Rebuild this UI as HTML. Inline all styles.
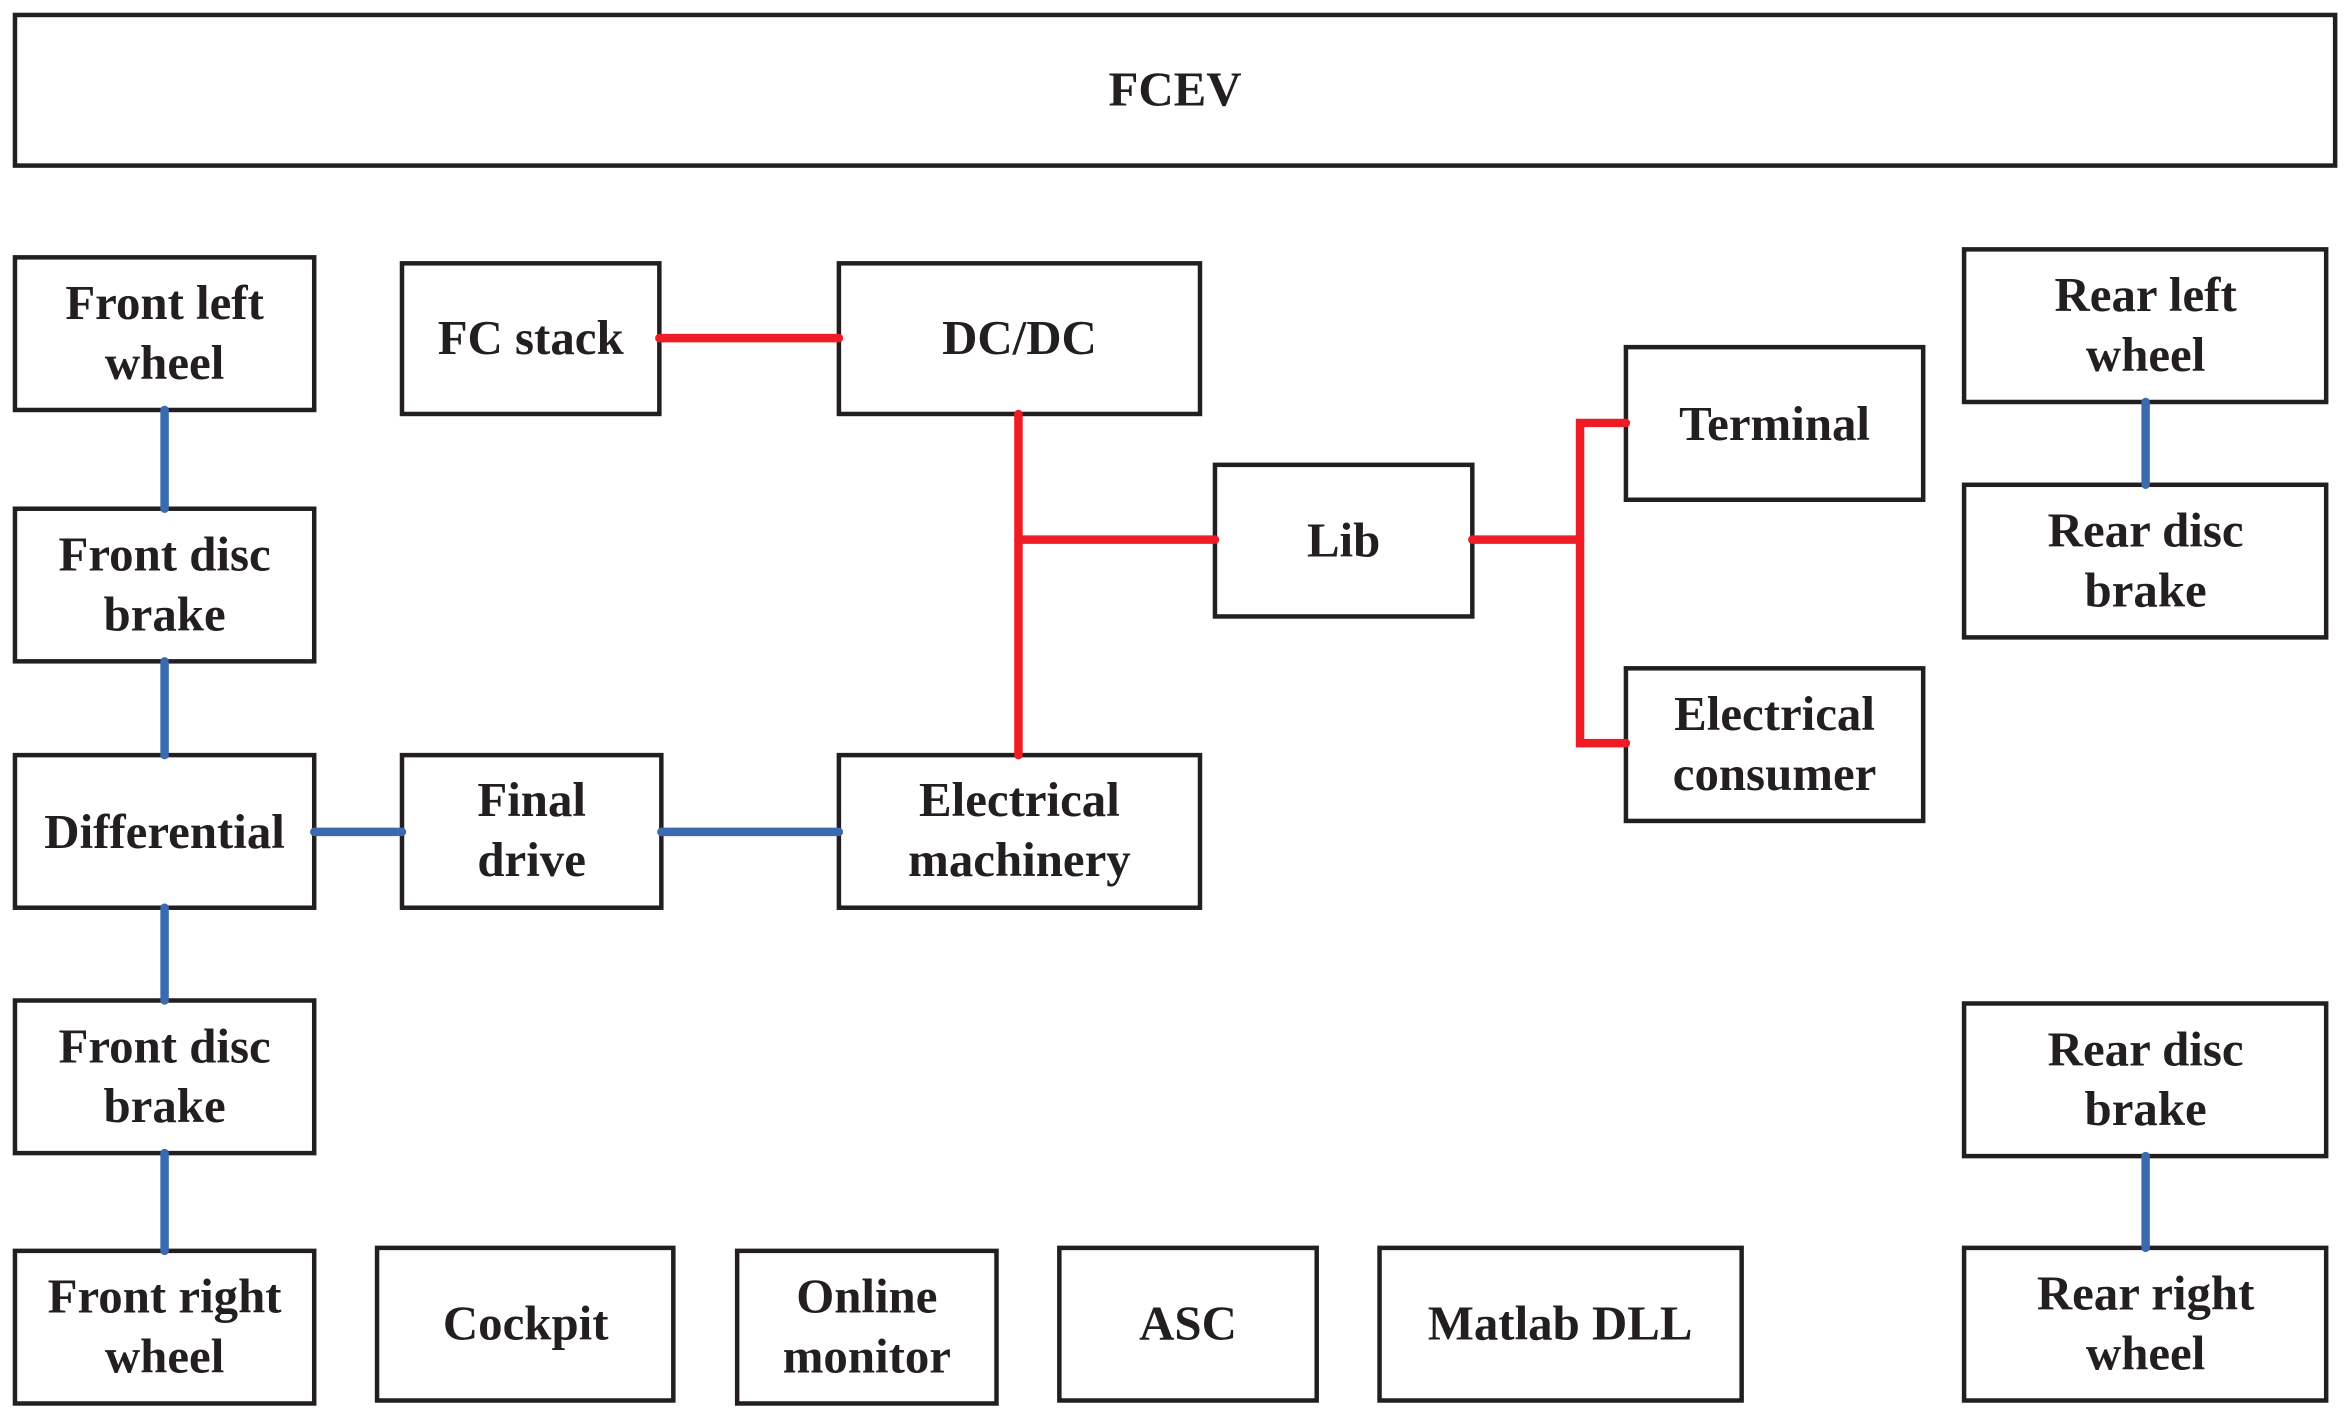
<!DOCTYPE html>
<html><head><style>
html,body{margin:0;padding:0;background:#fff;}
svg{display:block;}
text{font-family:"Liberation Serif",serif;font-weight:bold;font-size:49px;fill:#231f20;text-anchor:middle;}
</style></head><body>
<svg width="2345" height="1417" viewBox="0 0 2345 1417" xmlns="http://www.w3.org/2000/svg">
<g transform="scale(0.9975)">
<g fill="none" stroke="#231f20" stroke-width="4.5">
<rect x="15" y="15" width="2326" height="151"/>
<rect x="15" y="258" width="300" height="153"/>
<rect x="15" y="510" width="300" height="153"/>
<rect x="15" y="757" width="300" height="153"/>
<rect x="15" y="1003" width="300" height="153"/>
<rect x="15" y="1254" width="300" height="153"/>
<rect x="403" y="264" width="258" height="151"/>
<rect x="841" y="264" width="362" height="151"/>
<rect x="1218" y="466" width="258" height="152"/>
<rect x="1630" y="348" width="298" height="153"/>
<rect x="1630" y="670" width="298" height="153"/>
<rect x="1969" y="250" width="363" height="153"/>
<rect x="1969" y="486" width="363" height="153"/>
<rect x="403" y="757" width="260" height="153"/>
<rect x="841" y="757" width="362" height="153"/>
<rect x="1969" y="1006" width="363" height="153"/>
<rect x="1969" y="1251" width="363" height="153"/>
<rect x="378" y="1251" width="297" height="153"/>
<rect x="739" y="1254" width="260" height="153"/>
<rect x="1062" y="1251" width="258" height="153"/>
<rect x="1383" y="1251" width="363" height="153"/>
</g>
<g stroke="#3a6ab0" stroke-width="8.5" stroke-linecap="round" fill="none">
<line x1="165" y1="411" x2="165" y2="510"/>
<line x1="165" y1="663" x2="165" y2="757"/>
<line x1="165" y1="910" x2="165" y2="1003"/>
<line x1="165" y1="1156" x2="165" y2="1254"/>
<line x1="315" y1="834" x2="403" y2="834"/>
<line x1="663" y1="834" x2="841" y2="834"/>
<line x1="2151" y1="403" x2="2151" y2="486"/>
<line x1="2151" y1="1159" x2="2151" y2="1251"/>
</g>
<g stroke="#ee1c25" stroke-width="8.5" stroke-linecap="round" fill="none">
<line x1="661" y1="339" x2="841" y2="339"/>
<line x1="1021" y1="415" x2="1021" y2="757"/>
<line x1="1021" y1="541" x2="1218" y2="541"/>
<line x1="1476" y1="541" x2="1584" y2="541"/>
<polyline points="1630,424 1584,424 1584,745 1630,745"/>
</g>
<text x="1178" y="106">FCEV</text>
<text x="165" y="320">Front left</text><text x="165" y="380">wheel</text>
<text x="165" y="572">Front disc</text><text x="165" y="632">brake</text>
<text x="165" y="850">Differential</text>
<text x="165" y="1065">Front disc</text><text x="165" y="1125">brake</text>
<text x="165" y="1316">Front right</text><text x="165" y="1376">wheel</text>
<text x="532" y="355">FC stack</text>
<text x="1022" y="355">DC/DC</text>
<text x="1347" y="558">Lib</text>
<text x="1779" y="441">Terminal</text>
<text x="1779" y="732">Electrical</text><text x="1779" y="792">consumer</text>
<text x="2151" y="312">Rear left</text><text x="2151" y="372">wheel</text>
<text x="2151" y="548">Rear disc</text><text x="2151" y="608">brake</text>
<text x="533" y="818">Final</text><text x="533" y="878">drive</text>
<text x="1022" y="818">Electrical</text><text x="1022" y="878">machinery</text>
<text x="2151" y="1068">Rear disc</text><text x="2151" y="1128">brake</text>
<text x="2151" y="1313">Rear right</text><text x="2151" y="1373">wheel</text>
<text x="527" y="1343">Cockpit</text>
<text x="869" y="1316">Online</text><text x="869" y="1376">monitor</text>
<text x="1191" y="1343">ASC</text>
<text x="1564" y="1343">Matlab DLL</text>
</g>
</svg>
</body></html>
